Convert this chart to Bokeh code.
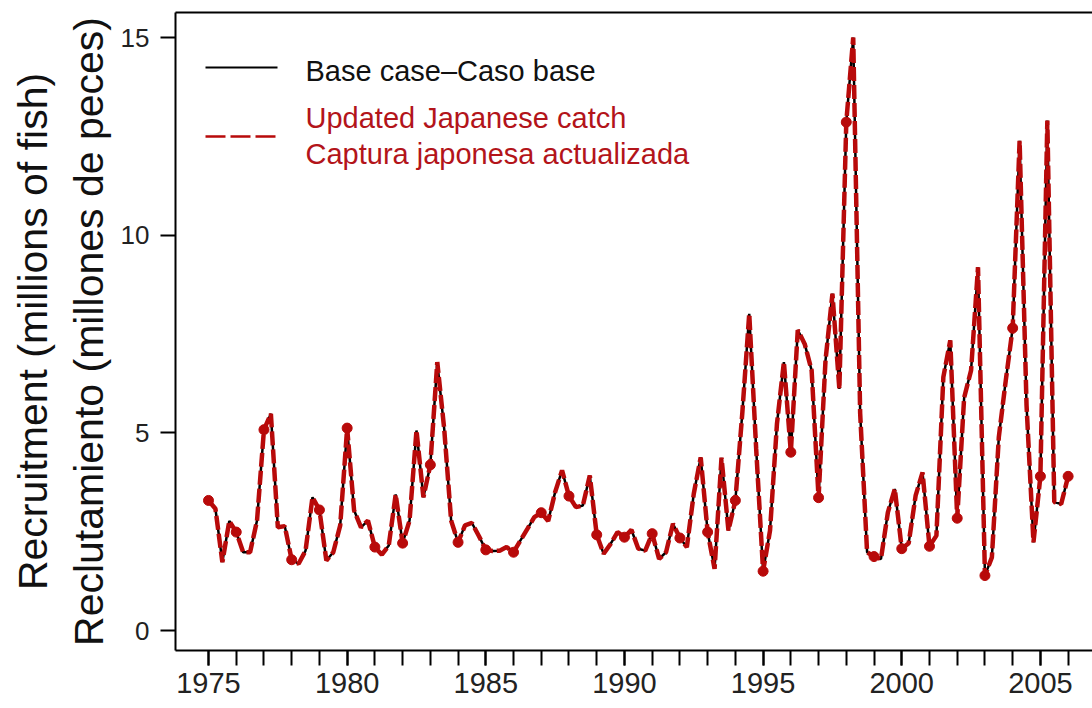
from bokeh.plotting import figure
from bokeh.models import Range1d, FixedTicker, LinearAxis, Label
from bokeh.embed import file_html
from bokeh.resources import INLINE

# ---------------- data ----------------
start_year = 1975  # first quarter of the series
# Quarterly recruitment (millions of fish), 1975 Q1 .. 2006 Q1
base_case = [
    3.29, 3.08, 1.73, 2.77,   # 1975
    2.49, 1.98, 1.98, 2.78,   # 1976
    5.08, 5.48, 2.61, 2.64,   # 1977
    1.79, 1.69, 2.02, 3.37,   # 1978
    3.05, 1.77, 1.98, 2.66,   # 1979
    5.12, 3.04, 2.61, 2.78,   # 1980
    2.11, 1.92, 2.15, 3.44,   # 1981
    2.21, 2.78, 5.06, 3.37,   # 1982
    4.19, 6.79, 5.10, 2.78,   # 1983
    2.23, 2.66, 2.72, 2.39,   # 1984
    2.04, 2.01, 2.02, 2.11,   # 1985
    1.98, 2.28, 2.57, 2.87,   # 1986
    2.98, 2.77, 3.50, 4.05,   # 1987
    3.40, 3.12, 3.16, 3.92,   # 1988
    2.42, 1.94, 2.19, 2.49,   # 1989
    2.36, 2.55, 2.07, 2.02,   # 1990
    2.45, 1.81, 1.98, 2.70,   # 1991
    2.34, 2.11, 3.46, 4.38,   # 1992
    2.49, 1.56, 4.37, 2.53,   # 1993
    3.29, 5.50, 8.01, 4.60,   # 1994
    1.50, 2.53, 5.23, 6.79,   # 1995
    4.51, 7.60, 7.25, 6.58,   # 1996
    3.36, 6.83, 8.52, 6.11,   # 1997
    12.86, 15.00, 5.50, 1.98, # 1998
    1.87, 1.81, 2.99, 3.58,   # 1999
    2.07, 2.21, 3.41, 4.00,   # 2000
    2.13, 2.40, 6.41, 7.34,   # 2001
    2.84, 5.89, 6.58, 9.19,   # 2002
    1.39, 1.85, 4.89, 6.32,   # 2003
    7.65, 12.39, 5.70, 2.23,  # 2004
    3.90, 12.90, 3.25, 3.20,  # 2005
    3.90,                     # 2006
]
# The updated-catch run is indistinguishable from the base case at this scale
updated_catch = list(base_case)

tick_years = [1975, 1980, 1985, 1990, 1995, 2000, 2005]
minor_years = list(range(1975, 2007))
y_ticks = [0, 5, 10, 15]

legend_base = "Base case\u2013Caso base"
legend_upd_1 = "Updated Japanese catch"
legend_upd_2 = "Captura japonesa actualizada"
y_title = "Recruitment (millions of fish)\nReclutamiento (millones de peces)"

# ---------------- style / layout ----------------
RED = "#B80A0A"
RED_TEXT = "#B3141A"
FONT = "Liberation Sans"

t = [start_year + i / 4 for i in range(len(base_case))]
t_dots = t[::4]
dots = updated_catch[::4]

# page-pixel -> data helpers (used for the frame and the hand-made legend)
def xd(px):
    return 1975 + (px - 208) / 27.73

def yd(py):
    return (630 - py) / 39.53

FRAME_L, FRAME_R, FRAME_T, FRAME_B = 175, 1092, 12, 650

p = figure(frame_width=FRAME_R - FRAME_L, frame_height=FRAME_B - FRAME_T,
           output_backend="svg", toolbar_location=None,
           x_range=Range1d(xd(FRAME_L), xd(FRAME_R)), y_range=Range1d(yd(FRAME_B), yd(FRAME_T)),
           min_border_left=FRAME_L, min_border_right=0,
           min_border_top=FRAME_T, min_border_bottom=56)
p.xgrid.visible = False
p.ygrid.visible = False
p.outline_line_color = None
p.background_fill_color = "white"
p.border_fill_color = "white"

xa = p.xaxis[0]
xa.ticker = FixedTicker(ticks=tick_years, minor_ticks=minor_years)
xa.axis_line_width = 2
xa.major_tick_line_width = 2
xa.minor_tick_line_width = 2
xa.major_tick_out = 15
xa.major_tick_in = 0
xa.minor_tick_out = 15
xa.minor_tick_in = 0
xa.major_label_text_font = FONT
xa.major_label_text_font_size = "29px"
xa.major_label_text_color = "#222222"
xa.major_label_standoff = 7

ya = p.yaxis[0]
ya.ticker = FixedTicker(ticks=y_ticks)
ya.axis_line_width = 2
ya.major_tick_line_width = 2
ya.minor_tick_line_color = None
ya.major_tick_out = 15
ya.major_tick_in = 0
ya.major_label_text_font = FONT
ya.major_label_text_font_size = "26px"
ya.major_label_text_color = "#222222"
ya.major_label_standoff = 11
ya.axis_label = y_title
ya.axis_label_text_font = FONT
ya.axis_label_text_font_size = "41px"
ya.axis_label_text_font_style = "normal"
ya.axis_label_text_color = "#111111"
ya.axis_label_standoff = 6

top = LinearAxis(ticker=FixedTicker(ticks=[]), axis_line_width=2,
                 major_tick_line_color=None, minor_tick_line_color=None,
                 major_label_text_font_size="0px")
p.add_layout(top, "above")

# series
p.line(t, base_case, color="black", line_width=2.5)
p.line(t, updated_catch, color=RED, line_width=4.5, line_dash="14 4")
p.scatter(t_dots, dots, size=10, color=RED)

# legend (hand placed)
p.line([xd(205), xd(277)], [yd(67), yd(67)], color="black", line_width=2)
p.line([xd(205), xd(280)], [yd(136), yd(136)], color=RED, line_width=2.5, line_dash="20 5")
p.add_layout(Label(x=xd(305), y=yd(70), text=legend_base, text_baseline="middle",
                   text_font=FONT, text_font_size="29px", text_color="#111111"))
p.add_layout(Label(x=xd(305), y=yd(117), text=legend_upd_1, text_baseline="middle",
                   text_font=FONT, text_font_size="29px", text_color=RED_TEXT))
p.add_layout(Label(x=xd(305), y=yd(153), text=legend_upd_2, text_baseline="middle",
                   text_font=FONT, text_font_size="29px", text_color=RED_TEXT))

open("out.html", "w").write(file_html(p, INLINE))
